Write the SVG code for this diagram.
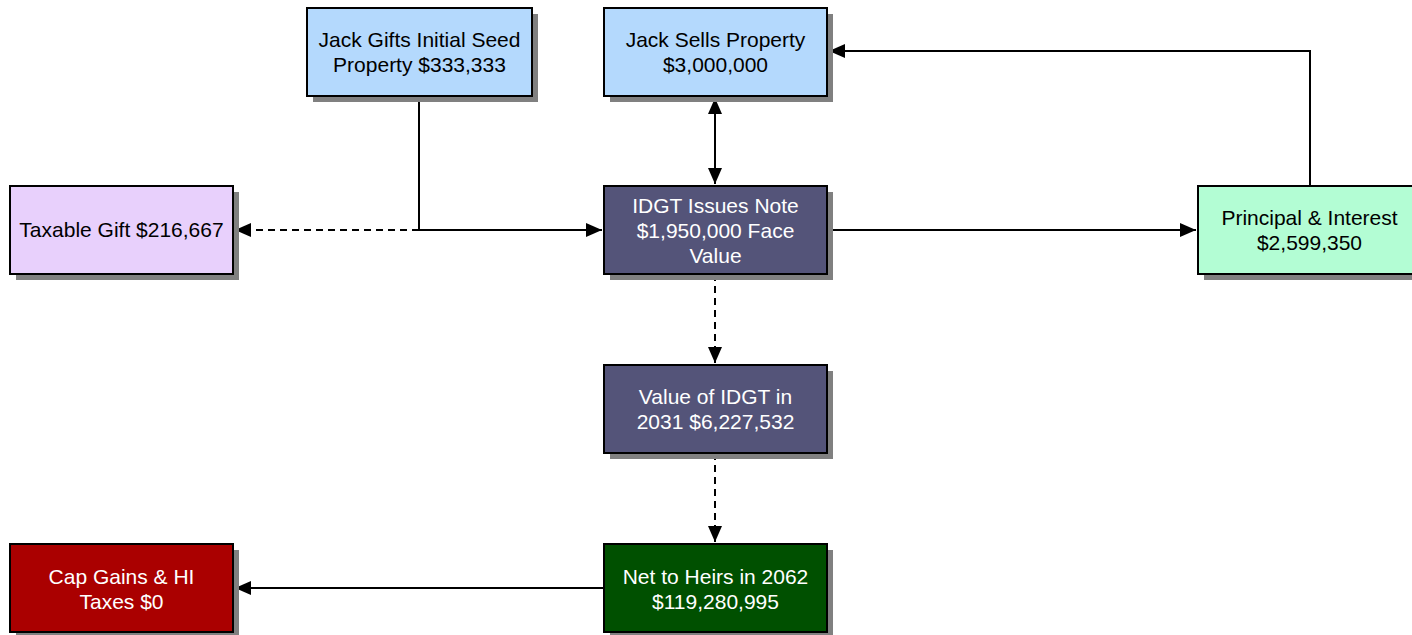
<svg xmlns="http://www.w3.org/2000/svg" width="1412" height="635" viewBox="0 0 1412 635">
<style>
.box{stroke:#000;stroke-width:2}
.sh{fill:#808080}
.t{font-family:"Liberation Sans",Arial,sans-serif;font-size:21px;text-anchor:middle}
.dk{fill:#000}
.lt{fill:#fff}
.c{fill:none;stroke:#000;stroke-width:2}
.d{stroke-dasharray:7,5}
</style>
<defs>
<marker id="ah" viewBox="0 0 16 14" refX="16" refY="7" markerWidth="16" markerHeight="14" markerUnits="userSpaceOnUse" orient="auto-start-reverse">
<path d="M0,0 L16,7 L0,14 Z" fill="#000"/>
</marker>
</defs>
<rect width="1412" height="635" fill="#fff"/>
<g id="connectors">
<path class="c" d="M419,96 V230 H602" marker-end="url(#ah)"/>
<path class="c d" d="M419,230 H235" marker-end="url(#ah)"/>
<path class="c" d="M715,98 V184" marker-start="url(#ah)" marker-end="url(#ah)"/>
<path class="c" d="M827,230 H1196" marker-end="url(#ah)"/>
<path class="c" d="M1310,186 V51 H829" marker-end="url(#ah)"/>
<path class="c d" d="M715,274 V363" marker-end="url(#ah)"/>
<path class="c d" d="M715,453 V542" marker-end="url(#ah)"/>
<path class="c" d="M604,588 H235" marker-end="url(#ah)"/>
</g>
<g id="jack-gifts">
<rect class="sh" x="313" y="14" width="225" height="88"/>
<rect class="box" x="307" y="8" width="225" height="88" fill="#b4d9fd"/>
<text class="t dk" x="419.5" y="47">Jack Gifts Initial Seed</text>
<text class="t dk" x="419.5" y="72">Property $333,333</text>
</g>
<g id="jack-sells">
<rect class="sh" x="610" y="14" width="223" height="88"/>
<rect class="box" x="604" y="8" width="223" height="88" fill="#b4d9fd"/>
<text class="t dk" x="715.5" y="47">Jack Sells Property</text>
<text class="t dk" x="715.5" y="72">$3,000,000</text>
</g>
<g id="taxable-gift">
<rect class="sh" x="16" y="192" width="223" height="88"/>
<rect class="box" x="10" y="186" width="223" height="88" fill="#e8d0fc"/>
<text class="t dk" x="121.5" y="237">Taxable Gift $216,667</text>
</g>
<g id="idgt-note">
<rect class="sh" x="610" y="192" width="223" height="88"/>
<rect class="box" x="604" y="186" width="223" height="88" fill="#545479"/>
<text class="t lt" x="715.5" y="213">IDGT Issues Note</text>
<text class="t lt" x="715.5" y="238">$1,950,000 Face</text>
<text class="t lt" x="715.5" y="263">Value</text>
</g>
<g id="principal-interest">
<rect class="sh" x="1204" y="192" width="223" height="88"/>
<rect class="box" x="1198" y="186" width="223" height="88" fill="#b3fdd4"/>
<text class="t dk" x="1309.5" y="225">Principal &amp; Interest</text>
<text class="t dk" x="1309.5" y="250">$2,599,350</text>
</g>
<g id="value-idgt">
<rect class="sh" x="610" y="371" width="223" height="88"/>
<rect class="box" x="604" y="365" width="223" height="88" fill="#545479"/>
<text class="t lt" x="715.5" y="404">Value of IDGT in</text>
<text class="t lt" x="715.5" y="429">2031 $6,227,532</text>
</g>
<g id="net-heirs">
<rect class="sh" x="610" y="550" width="223" height="88"/>
<rect class="box" x="604" y="544" width="223" height="88" fill="#005000"/>
<text class="t lt" x="715.5" y="584">Net to Heirs in 2062</text>
<text class="t lt" x="715.5" y="609">$119,280,995</text>
</g>
<g id="cap-gains">
<rect class="sh" x="16" y="550" width="223" height="88"/>
<rect class="box" x="10" y="544" width="223" height="88" fill="#aa0000"/>
<text class="t lt" x="121.5" y="584">Cap Gains &amp; HI</text>
<text class="t lt" x="121.5" y="609">Taxes $0</text>
</g>
</svg>
